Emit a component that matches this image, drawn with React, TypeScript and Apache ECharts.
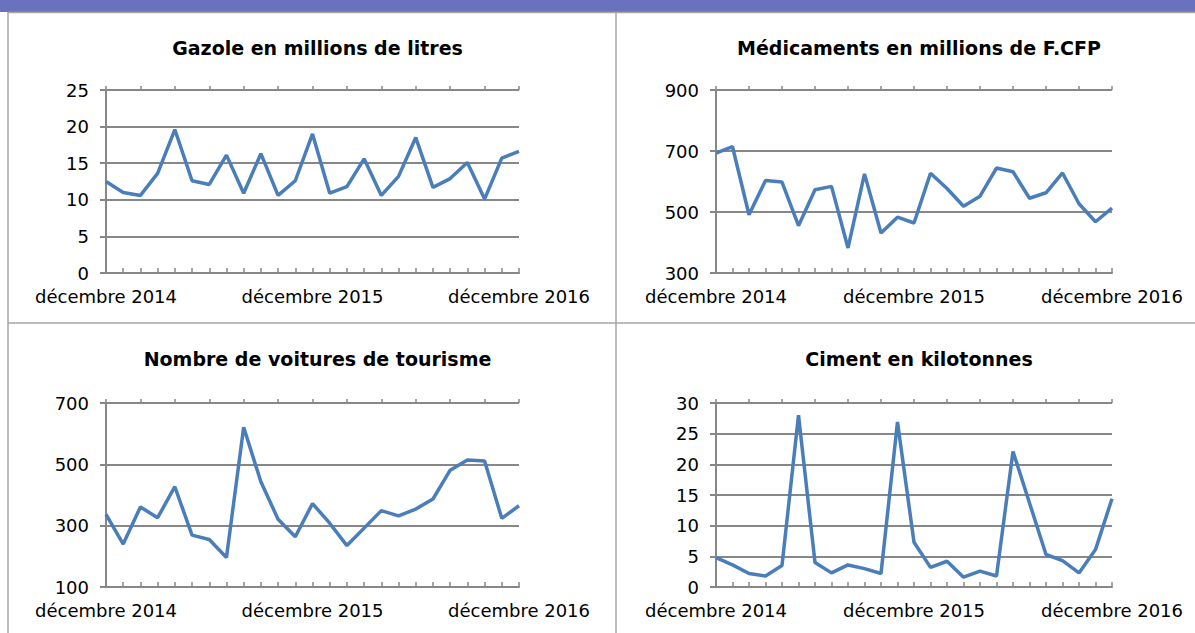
import React, { useEffect, useRef } from "react";
import * as echarts from "echarts";

const categories = [
  "décembre 2014", "janvier 2015", "février 2015", "mars 2015", "avril 2015", "mai 2015",
  "juin 2015", "juillet 2015", "août 2015", "septembre 2015", "octobre 2015", "novembre 2015",
  "décembre 2015", "janvier 2016", "février 2016", "mars 2016", "avril 2016", "mai 2016",
  "juin 2016", "juillet 2016", "août 2016", "septembre 2016", "octobre 2016", "novembre 2016",
  "décembre 2016",
];

const gazole = [12.5, 11.0, 10.6, 13.6, 19.6, 12.6, 12.1, 16.1, 10.9, 16.3, 10.6, 12.6, 19.0, 10.9, 11.8, 15.6, 10.6, 13.2, 18.5, 11.7, 12.9, 15.1, 10.1, 15.7, 16.6];
const medicaments = [693, 714, 491, 603, 598, 455, 573, 584, 382, 625, 431, 483, 464, 627, 577, 519, 552, 644, 632, 545, 563, 628, 527, 468, 513];
const voitures = [337, 240, 361, 326, 427, 269, 255, 196, 621, 443, 321, 264, 372, 308, 235, 292, 349, 332, 354, 387, 481, 514, 511, 324, 365];
const ciment = [4.8, 3.6, 2.2, 1.8, 3.5, 28.0, 4.0, 2.3, 3.6, 3.0, 2.2, 26.9, 7.3, 3.2, 4.2, 1.6, 2.6, 1.8, 22.1, 13.7, 5.3, 4.3, 2.3, 6.1, 14.4];

const titles = [
  "Gazole en millions de litres",
  "Médicaments en millions de F.CFP",
  "Nombre de voitures de tourisme",
  "Ciment en kilotonnes",
];
const seriesData = [gazole, medicaments, voitures, ciment];
const yMin = [0, 300, 100, 0];
const yMax = [25, 900, 700, 30];
const yInterval = [5, 200, 200, 5];

const FONT = "DejaVu Sans";
const GRID_COLOR = "#878787";
const BORDER_COLOR = "#a6a6a6";
const LINE_COLOR = "#4a7ebb";

export default function App() {
  const ref = useRef<HTMLDivElement>(null);
  useEffect(() => {
    if (!ref.current) return;
    const chart = echarts.init(ref.current, null, { renderer: "svg" });
    const grids = [
      { left: 106, top: 90, width: 413, height: 183 },
      { left: 716, top: 90, width: 396, height: 183 },
      { left: 106, top: 403, width: 413, height: 184 },
      { left: 716, top: 403, width: 396, height: 184 },
    ];
    const titleTops = [33, 33, 344, 344];
    const xAxis: any[] = [];
    const yAxis: any[] = [];
    const series: any[] = [];
    const title: any[] = [];
    grids.forEach((g, i) => {
      xAxis.push({
        type: "category",
        gridIndex: i,
        data: categories,
        boundaryGap: false,
        axisLine: { show: true, lineStyle: { color: GRID_COLOR, width: 2 } },
        axisTick: { show: true, inside: true, length: 5, interval: 0, lineStyle: { color: GRID_COLOR, width: 1.5 } },
        axisLabel: { interval: 11, color: "#000", fontSize: 18, fontFamily: FONT, margin: 14 },
        splitLine: { show: false },
      });
      xAxis.push({
        type: "category",
        gridIndex: i,
        data: categories,
        boundaryGap: false,
        axisLine: { show: false },
        axisTick: { show: true, inside: false, length: 4, interval: 1, lineStyle: { color: GRID_COLOR, width: 1.5 } },
        axisLabel: { show: false },
        splitLine: { show: false },
      });
      yAxis.push({
        type: "value",
        gridIndex: i,
        min: yMin[i],
        max: yMax[i],
        interval: yInterval[i],
        axisLine: { show: true, lineStyle: { color: GRID_COLOR, width: 2 } },
        axisTick: { show: true, inside: false, length: 6, lineStyle: { color: GRID_COLOR, width: 2 } },
        axisLabel: { color: "#000", fontSize: 18, fontFamily: FONT, margin: 17 },
        splitLine: { show: true, lineStyle: { color: GRID_COLOR, width: 2 } },
      });
      series.push({
        type: "line",
        xAxisIndex: 2 * i,
        yAxisIndex: i,
        data: seriesData[i],
        showSymbol: false,
        symbol: "none",
        lineStyle: { color: LINE_COLOR, width: 3.5 },
        itemStyle: { color: LINE_COLOR },
      });
      title.push({
        text: titles[i],
        left: g.left + g.width / 2,
        top: titleTops[i],
        textAlign: "center",
        textStyle: { fontFamily: FONT, fontSize: 19, fontWeight: "bold", color: "#000" },
      });
    });
    chart.setOption({
      animation: false,
      backgroundColor: "#fff",
      textStyle: { fontFamily: FONT },
      title,
      grid: grids,
      xAxis,
      yAxis,
      series,
      graphic: [
        { type: "rect", shape: { x: 0, y: 0, width: 1195, height: 12 }, style: { fill: "#6a71be" } },
        { type: "line", shape: { x1: 8, y1: 12.5, x2: 1195, y2: 12.5 }, style: { stroke: BORDER_COLOR, lineWidth: 1.5 } },
        { type: "line", shape: { x1: 8, y1: 12, x2: 8, y2: 633 }, style: { stroke: BORDER_COLOR, lineWidth: 1.5 } },
        { type: "line", shape: { x1: 616, y1: 12, x2: 616, y2: 633 }, style: { stroke: BORDER_COLOR, lineWidth: 1.5 } },
        { type: "line", shape: { x1: 8, y1: 323, x2: 1195, y2: 323 }, style: { stroke: BORDER_COLOR, lineWidth: 1.5 } },
      ],
    });
    return () => chart.dispose();
  }, []);
  return (
    <div
      ref={ref}
      style={{ position: "fixed", left: 0, top: 0, width: 1195, height: 633, background: "#fff" }}
    />
  );
}
